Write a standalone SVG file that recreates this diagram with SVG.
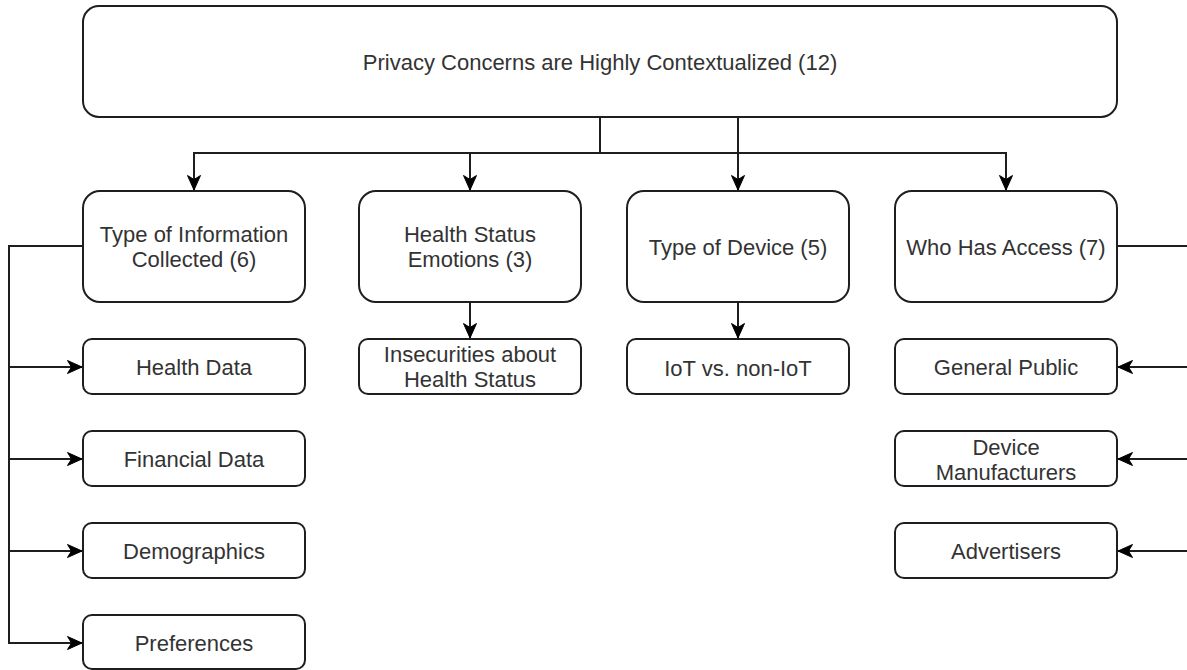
<svg xmlns="http://www.w3.org/2000/svg" width="1187" height="670" viewBox="0 0 1187 670">
<style>
.box{fill:#fff;stroke:#1e1e1e;stroke-width:2}
.t{font-family:"Liberation Sans",Arial,Helvetica,sans-serif;font-size:22px;fill:#333;text-anchor:middle}
.e{fill:none;stroke:#1e1e1e;stroke-width:2}
</style>
<defs>
<marker id="arr" markerUnits="userSpaceOnUse" markerWidth="18" markerHeight="16" refX="15" refY="8" orient="auto">
<path d="M0.5,1.5 L15,8 L0.5,14.5 L4.5,8 Z" fill="#000" stroke="#000" stroke-width="1"/>
</marker>
</defs>
<rect width="1187" height="670" fill="#fff"/>
<g id="connectors">
<path class="e" d="M600,117 V153 H194 V190" marker-end="url(#arr)"/>
<path class="e" d="M600,117 V153 H470 V190" marker-end="url(#arr)"/>
<path class="e" d="M738,117 V190" marker-end="url(#arr)"/>
<path class="e" d="M600,117 V153 H1006 V190" marker-end="url(#arr)"/>
<path class="e" d="M83,246 H9 V367 H82" marker-end="url(#arr)"/>
<path class="e" d="M83,246 H9 V459 H82" marker-end="url(#arr)"/>
<path class="e" d="M83,246 H9 V551 H82" marker-end="url(#arr)"/>
<path class="e" d="M83,246 H9 V643 H82" marker-end="url(#arr)"/>
<path class="e" d="M470,302 V338" marker-end="url(#arr)"/>
<path class="e" d="M738,302 V338" marker-end="url(#arr)"/>
<path class="e" d="M1117,246 H1192 V367 H1118" marker-end="url(#arr)"/>
<path class="e" d="M1117,246 H1192 V459 H1118" marker-end="url(#arr)"/>
<path class="e" d="M1117,246 H1192 V551 H1118" marker-end="url(#arr)"/>
</g>
<g id="root"><rect class="box" x="83" y="6" width="1034" height="111" rx="16"/><text class="t" x="600" y="70">Privacy Concerns are Highly Contextualized (12)</text></g>
<g id="typeInfo"><rect class="box" x="83" y="191" width="222" height="111" rx="17"/><text class="t" x="194" y="242">Type of Information</text><text class="t" x="194" y="267">Collected (6)</text></g>
<g id="healthStatus"><rect class="box" x="359" y="191" width="222" height="111" rx="17"/><text class="t" x="470" y="242">Health Status</text><text class="t" x="470" y="267">Emotions (3)</text></g>
<g id="typeDevice"><rect class="box" x="627" y="191" width="222" height="111" rx="17"/><text class="t" x="738" y="255">Type of Device (5)</text></g>
<g id="whoAccess"><rect class="box" x="895" y="191" width="222" height="111" rx="17"/><text class="t" x="1006" y="255">Who Has Access (7)</text></g>
<g id="healthData"><rect class="box" x="83" y="339" width="222" height="55" rx="9"/><text class="t" x="194" y="375">Health Data</text></g>
<g id="financialData"><rect class="box" x="83" y="431" width="222" height="55" rx="9"/><text class="t" x="194" y="467">Financial Data</text></g>
<g id="demographics"><rect class="box" x="83" y="523" width="222" height="55" rx="9"/><text class="t" x="194" y="559">Demographics</text></g>
<g id="preferences"><rect class="box" x="83" y="615" width="222" height="54" rx="9"/><text class="t" x="194" y="651">Preferences</text></g>
<g id="insecurities"><rect class="box" x="359" y="339" width="222" height="55" rx="9"/><text class="t" x="470" y="362">Insecurities about</text><text class="t" x="470" y="387">Health Status</text></g>
<g id="iot"><rect class="box" x="627" y="339" width="222" height="55" rx="9"/><text class="t" x="738" y="376">IoT vs. non-IoT</text></g>
<g id="generalPublic"><rect class="box" x="895" y="339" width="222" height="55" rx="9"/><text class="t" x="1006" y="375">General Public</text></g>
<g id="manufacturers"><rect class="box" x="895" y="431" width="222" height="55" rx="9"/><text class="t" x="1006" y="455">Device</text><text class="t" x="1006" y="480">Manufacturers</text></g>
<g id="advertisers"><rect class="box" x="895" y="523" width="222" height="55" rx="9"/><text class="t" x="1006" y="559">Advertisers</text></g>
</svg>
